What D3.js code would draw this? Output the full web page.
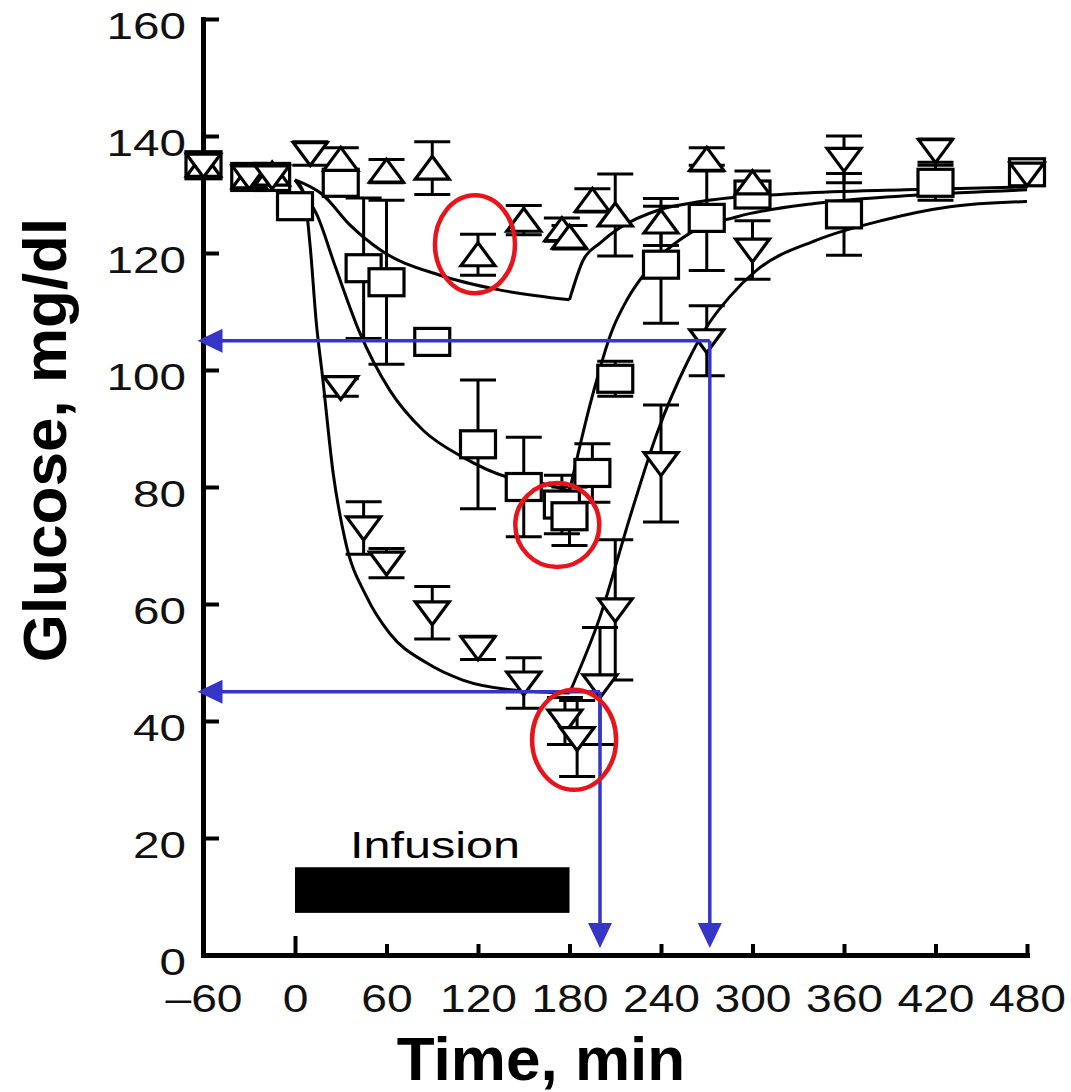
<!DOCTYPE html>
<html><head><meta charset="utf-8">
<script src="https://cdn.jsdelivr.net/npm/d3@7"></script>
<style>body{margin:0;background:#fff}svg{display:block}</style>
</head><body><svg id="c" width="1071" height="1092"></svg>
<script>
// ---------- data ----------
const xTicks=[-60,0,60,120,180,240,300,360,420,480];
const xTickLabels=["–60","0","60","120","180","240","300","360","420","480"];
const yTicks=[0,20,40,60,80,100,120,140,160];
const yTickLabels=["0","20","40","60","80","100","120","140","160"];
const xTitle="Time, min";
const yTitle="Glucose, mg/dl";

// open triangles (up)
const upT=[-60,-30,-15,30,60,90,120,150,175,180,195,210,240,270,300];
const upV=[135,133,133.5,136,134,134.5,119.7,125.6,124,122.7,129,126.5,125.3,136,132];
const upE=[1,1,1,2,2,4.5,3.5,2.5,2,2,2,7,4,2,2];
// open squares
const sqT=[-60,-30,-15,0,30,45,60,90,120,150,175,180,195,210,240,270,300,360,420,480];
const sqV=[135,133,133,128,132,117.4,115,104.8,87.3,80,77,75,82.4,98.5,118,126,130,126.6,132,133.8];
const sqE=[1,1,1,2,2,12,14,1,11,8.5,5,5,5,3,10,9,2,7,3,1];
// open triangles (down)
const dnT=[-60,-30,-15,10,30,45,60,90,120,150,177,185,200,210,240,270,300,360,420,480];
const dnV=[135,133,133,137,97,73,67,58.5,52.5,46.5,40,37,46,59,84,105,120.5,136,137.5,133.5];
const dnE=[1,1,1,2,1.5,4.5,2.5,4.5,2,4.3,4,6.5,10,12,10,6,5,4,2,1];

// fitted curves
const cUpT=[0,18,36,56,95,134,180,189,200,213,239,266,331,400,480];
const cUpV=[132.5,130,124.8,120.5,116.2,113.7,112,118.8,121.7,124.3,127.4,128.8,130.2,130.8,131.3];
const cSqT=[0,6.5,14.4,26,42.6,62,84,110,139,160.7,180,193.4,208,217.7,232.8,259,290,342,408,480];
const cSqV=[132.5,130,126.5,118,106.3,96.6,89.7,85.1,81.7,80.7,79.3,94,106.8,112,117.6,123.4,126.2,128.5,129.9,130.8];
const cDnT=[0,6,10,14,18,25,32.8,47,62,86.5,110,143,180,200,219.7,237.4,257,270,285,303,342,385.6,429.5,480];
const cDnV=[132.5,130,121,108,99,82.4,71,61.2,55,49.9,47,45.3,44.8,57.8,74.9,89.2,101.2,107.4,112.5,117.1,122.2,125.6,127.9,128.8];

// infusion period
const infusionT=[0,180];
const infusionV=[7.2,15];
const infusionLabel="Infusion";
// blue read-off arrows
const arrowT=[272,200];
const arrowV=[105,45];
// red highlight circles
const circT=[118,172,183];
const circV=[121.5,73.5,36.8];

// ---------- drawing ----------
const svg=d3.select("#c");
svg.append("rect").attr("width",1071).attr("height",1092).attr("fill","#fff");
const x=d3.scaleLinear().domain([-60,480]).range([203.5,1027]);
const y=d3.scaleLinear().domain([0,160]).range([955,19]);
const FONT="Liberation Sans, Arial, Helvetica, sans-serif";

// y axis
const ya=svg.append("g").attr("transform","translate(203,0)")
 .call(d3.axisLeft(y).tickValues(yTicks).tickFormat((d,i)=>yTickLabels[i])
   .tickSizeInner(-16).tickSizeOuter(0).tickPadding(17));
ya.select(".domain").attr("stroke","#000").attr("stroke-width",5).attr("stroke-linecap","square");
ya.selectAll(".tick line").attr("stroke","#000").attr("stroke-width",4);
ya.selectAll(".tick text").attr("font-family",FONT).attr("font-size",36).attr("fill","#111")
 .attr("dy",19).attr("textLength",function(){return this.textContent.length*26.5;})
 .attr("lengthAdjust","spacingAndGlyphs");

// x axis
const xa=svg.append("g").attr("transform","translate(0,955)")
 .call(d3.axisBottom(x).tickValues(xTicks).tickFormat((d,i)=>xTickLabels[i])
   .tickSizeInner(-11).tickSizeOuter(0));
xa.select(".domain").attr("stroke","#000").attr("stroke-width",5).attr("stroke-linecap","square");
xa.selectAll(".tick line").attr("stroke","#000").attr("stroke-width",4)
 .attr("y2",d=>d===0?-19:(d===-60?0:-11));
xa.selectAll(".tick text").attr("font-family",FONT).attr("font-size",39).attr("fill","#111")
 .attr("y",57).attr("dy",0).attr("textLength",function(){return this.textContent.length*25.7;})
 .attr("lengthAdjust","spacingAndGlyphs");

// titles
svg.append("text").attr("x",541).attr("y",1080).attr("text-anchor","middle")
 .attr("font-family",FONT).attr("font-weight","bold").attr("font-size",62).text(xTitle);
svg.append("text").attr("transform","translate(66,440) rotate(-90)").attr("text-anchor","middle")
 .attr("font-family",FONT).attr("font-weight","bold").attr("font-size",62).text(yTitle);

// infusion bar
svg.append("rect").attr("x",x(infusionT[0])).attr("y",y(infusionV[1]))
 .attr("width",x(infusionT[1])-x(infusionT[0])).attr("height",y(infusionV[0])-y(infusionV[1])).attr("fill","#000");
svg.append("text").attr("x",435).attr("y",858).attr("text-anchor","middle")
 .attr("font-family",FONT).attr("font-size",37).attr("textLength",170).attr("lengthAdjust","spacingAndGlyphs")
 .text(infusionLabel);

// curves: infusion phase and recovery phase drawn separately (sharp corner at 180)
const line=d3.line().x(d=>x(d[0])).y(d=>y(d[1])).curve(d3.curveMonotoneX);
[[cUpT,cUpV],[cSqT,cSqV],[cDnT,cDnV]].forEach(([T,V])=>{
  const pts=T.map((t,i)=>[t,V[i]]);
  const a=pts.filter(p=>p[0]<=180), b=pts.filter(p=>p[0]>=180);
  [a,b].forEach(seg=>svg.append("path").attr("d",line(seg)).attr("fill","none")
    .attr("stroke","#000").attr("stroke-width",3));
});

// error bars
const eb=svg.append("g").attr("stroke","#000").attr("stroke-width",3);
function errs(T,V,E){
  T.forEach((t,i)=>{
    const cx=x(t), y1=y(V[i]+E[i]), y2=y(V[i]-E[i]);
    eb.append("line").attr("x1",cx).attr("x2",cx).attr("y1",y1).attr("y2",y2);
    eb.append("line").attr("x1",cx-18).attr("x2",cx+18).attr("y1",y1).attr("y2",y1);
    eb.append("line").attr("x1",cx-18).attr("x2",cx+18).attr("y1",y2).attr("y2",y2);
  });
}
errs(sqT,sqV,sqE); errs(upT,upV,upE); errs(dnT,dnV,dnE);

// markers
const mk=svg.append("g").attr("stroke","#000").attr("stroke-width",3.2).attr("fill","#fff");
sqT.forEach((t,i)=>mk.append("rect").attr("x",x(t)-17.5).attr("y",y(sqV[i])-13.5).attr("width",35).attr("height",27));
upT.forEach((t,i)=>{const cx=x(t),cy=y(upV[i]);
  mk.append("path").attr("d",`M${cx},${cy-12}L${cx+17},${cy+11}L${cx-17},${cy+11}Z`);});
dnT.forEach((t,i)=>{const cx=x(t),cy=y(dnV[i]);
  mk.append("path").attr("d",`M${cx-17},${cy-11}L${cx+17},${cy-11}L${cx},${cy+12}Z`);});

// blue arrows
const BLUE="#3535c8";
const ar=svg.append("g");
arrowT.forEach((t,i)=>{
  const px=x(t), py=y(arrowV[i]), left=x(-60)-6, bottom=948;
  ar.append("line").attr("x1",px).attr("x2",left+24).attr("y1",py).attr("y2",py).attr("stroke",BLUE).attr("stroke-width",3.5);
  ar.append("path").attr("d",`M${left},${py}L${left+25},${py-12}L${left+25},${py+12}Z`).attr("fill",BLUE);
  ar.append("line").attr("x1",px).attr("x2",px).attr("y1",py).attr("y2",bottom-24).attr("stroke",BLUE).attr("stroke-width",3.5);
  ar.append("path").attr("d",`M${px},${bottom}L${px-12},${bottom-25}L${px+12},${bottom-25}Z`).attr("fill",BLUE);
});

// red circles
const rx=[40,42,42], ry=[49,42,50];
circT.forEach((t,i)=>svg.append("ellipse").attr("cx",x(t)).attr("cy",y(circV[i]))
  .attr("rx",rx[i]).attr("ry",ry[i]).attr("fill","none").attr("stroke","#e8141b").attr("stroke-width",4.5));
</script></body></html>
